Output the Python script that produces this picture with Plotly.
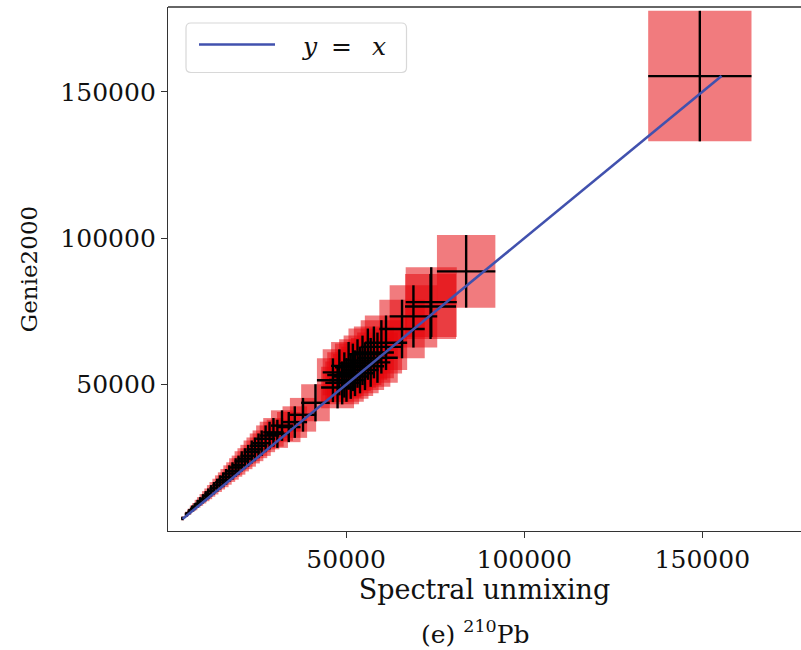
import plotly.graph_objects as go

# Activity estimates: spectral unmixing (x) vs Genie2000 (y), with 1-sigma uncertainties
spectral = [4100, 5200, 6000, 6800, 7500, 8300, 9000, 9800, 10600, 11300,
            12100, 12900, 13800, 14600, 15500, 16300, 17200, 18100, 19000, 19800,
            20700, 21600, 22500, 23500, 24400, 25400, 26300, 27400, 28500, 29600,
            30700, 32000, 33900, 35600, 37900, 41400,
            46300, 47600, 48100, 48900, 49500, 50100, 50700, 51300, 51900, 52500,
            53200, 53900, 54600, 55300, 56100, 56900, 57800, 58800, 59900, 61200,
            65700, 68900, 73700, 73900, 83700, 149300]
genie = [4300, 5700, 6600, 7600, 8300, 9300, 10100, 11000, 11900, 12700,
         13700, 14600, 15600, 16600, 17500, 18500, 19600, 20500, 21700, 22500,
         23800, 24700, 25700, 27000, 27900, 29100, 30000, 31500, 32600, 33700,
         33200, 36000, 35500, 37200, 39700, 43800,
         51500, 49000, 54200, 50600, 53300, 51600, 56400, 52800, 55900, 53900,
         57200, 55000, 58300, 56300, 60400, 57600, 61000, 59200, 62900, 64300,
         69000, 73300, 76700, 78200, 88700, 155400]
spectral_err = [400, 500, 580, 660, 730, 810, 870, 950, 1030, 1100,
                1170, 1250, 1340, 1420, 1500, 1580, 1670, 1760, 1840, 1920,
                2010, 2100, 2180, 2280, 2370, 2460, 2550, 2660, 2760, 2870,
                2980, 3100, 3290, 3450, 3680, 4020,
                4490, 4620, 4670, 4740, 4800, 4860, 4920, 4980, 5030, 5090,
                5160, 5230, 5300, 5360, 5440, 5520, 5610, 5700, 5810, 5940,
                6370, 6680, 7150, 7170, 8200, 14500]
genie_err = [620, 830, 960, 1100, 1200, 1350, 1460, 1600, 1730, 1840,
             1990, 2120, 2260, 2410, 2540, 2680, 2840, 2970, 3150, 3260,
             3450, 3580, 3730, 3920, 4050, 4220, 4350, 4570, 4730, 4890,
             4810, 5220, 5150, 5390, 5760, 6350,
             7470, 7110, 7860, 7340, 7730, 7480, 8180, 7660, 8110, 7820,
             8290, 7980, 8450, 8160, 8760, 8350, 8850, 8580, 9120, 9320,
             10000, 10630, 11120, 11900, 12400, 22300]

x_ticks = [50000, 100000, 150000]
y_ticks = [50000, 100000, 150000]
x_title = "Spectral unmixing"
y_title = "Genie2000"
caption = "(e) <sup>210</sup>Pb"

BOX_FILL = "rgba(228,5,12,0.53)"
LINE_BLUE = "#4151ae"
SERIF = "DejaVu Serif"
TEXT = "#111111"

fig = go.Figure()

# uncertainty rectangles, one per measurement
shapes = []
for x, y, ex, ey in zip(spectral, genie, spectral_err, genie_err):
    shapes.append(dict(type="rect", xref="x", yref="y",
                       x0=x - ex, x1=x + ex, y0=y - ey, y1=y + ey,
                       fillcolor=BOX_FILL, line=dict(width=0), layer="below"))

# crosshair error bars
fig.add_trace(go.Scatter(
    x=spectral, y=genie, mode="markers",
    marker=dict(size=0, color="rgba(0,0,0,0)"),
    error_x=dict(type="data", array=spectral_err, color="black", thickness=2.4, width=0),
    error_y=dict(type="data", array=genie_err, color="black", thickness=2.4, width=0),
    showlegend=False, hoverinfo="skip"))

# identity line spanning the data
lo = min(spectral + genie)
hi = max(spectral + genie)
fig.add_trace(go.Scatter(x=[lo, hi], y=[lo, hi], mode="lines",
                         line=dict(color=LINE_BLUE, width=2.6),
                         showlegend=False))

# plot-area geometry in pixels, used for the hand-drawn legend box
L, R, T, B = 168, 801, 7, 531
W, H = R - L, B - T


def px(xp):
    return (xp - L) / W


def py(yp):
    return (B - yp) / H


# top frame line (the right edge of the frame falls outside the canvas)
shapes.append(dict(type="line", xref="paper", yref="paper", x0=0, x1=1, y0=1, y1=1,
                   line=dict(color="#333333", width=1.4), layer="above"))

# legend frame with rounded corners
x0, x1, y0, y1 = 186, 406.5, 23, 72.5
rx, ry = 5 / W, 5 / H
a0, a1, b0, b1 = px(x0), px(x1), py(y1), py(y0)
path = (f"M{a0 + rx},{b0} L{a1 - rx},{b0} Q{a1},{b0} {a1},{b0 + ry} "
        f"L{a1},{b1 - ry} Q{a1},{b1} {a1 - rx},{b1} "
        f"L{a0 + rx},{b1} Q{a0},{b1} {a0},{b1 - ry} "
        f"L{a0},{b0 + ry} Q{a0},{b0} {a0 + rx},{b0} Z")
shapes.append(dict(type="path", xref="paper", yref="paper", path=path,
                   fillcolor="rgba(255,255,255,0.85)",
                   line=dict(color="#d8d8d8", width=1.2), layer="above"))
shapes.append(dict(type="line", xref="paper", yref="paper",
                   x0=px(199), x1=px(275), y0=py(44.5), y1=py(44.5),
                   line=dict(color=LINE_BLUE, width=2.4), layer="above"))

legend_font = dict(family=SERIF, size=25, color=TEXT)
annotations = [
    # legend entry, set as math: italic y, equals sign, italic x
    dict(text="<i>y</i>", xref="paper", yref="paper", x=px(310), y=py(46),
         xanchor="center", yanchor="middle", showarrow=False, font=legend_font),
    dict(text="=", xref="paper", yref="paper", x=px(341.5), y=py(46),
         xanchor="center", yanchor="middle", showarrow=False, font=legend_font),
    dict(text="<i>x</i>", xref="paper", yref="paper", x=px(379), y=py(46),
         xanchor="center", yanchor="middle", showarrow=False, font=legend_font),
    dict(text=caption, xref="paper", yref="paper", x=px(475), y=py(632),
         xanchor="center", yanchor="middle", showarrow=False,
         font=dict(family=SERIF, size=25, color=TEXT)),
]

axis_common = dict(showgrid=False, zeroline=False, showline=True,
                   linecolor="#333333", linewidth=1.4, ticks="outside",
                   ticklen=6, tickwidth=1.2, tickcolor="#333333",
                   tickformat="d", tickfont=dict(family=SERIF, size=25, color=TEXT))

fig.update_layout(
    width=801, height=650,
    margin=dict(l=L, r=0, t=T, b=650 - B),
    paper_bgcolor="white", plot_bgcolor="white",
    shapes=shapes, annotations=annotations,
    xaxis=dict(range=[0, 177700], tickvals=x_ticks,
               title=dict(text=x_title, font=dict(family=SERIF, size=27, color=TEXT),
                          standoff=2),
               **axis_common),
    yaxis=dict(range=[0, 179000], tickvals=y_ticks,
               title=dict(text=y_title, font=dict(family=SERIF, size=23, color=TEXT),
                          standoff=16),
               **axis_common),
)

fig.write_html("out.html")
